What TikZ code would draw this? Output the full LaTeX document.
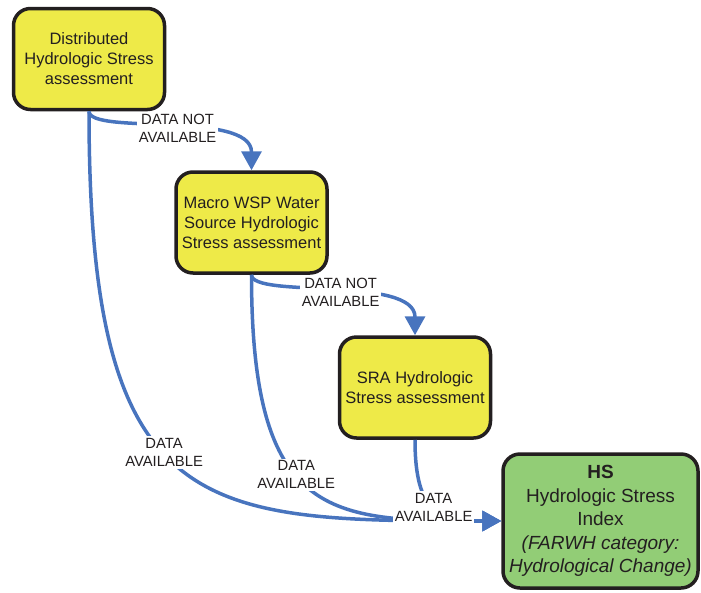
\documentclass[tikz,border=0pt]{standalone}
\usepackage{fontspec}
\setmainfont{Liberation Sans}
\usetikzlibrary{arrows.meta}
\definecolor{boxyellow}{RGB}{238,234,72}
\definecolor{boxgreen}{RGB}{146,205,118}
\definecolor{flowblue}{RGB}{72,116,190}
\definecolor{inkdark}{RGB}{35,31,32}

\begin{document}
\begin{tikzpicture}[x=1pt,y=-1pt,
  stage/.style={draw=inkdark, line width=3.5pt, rounded corners=17pt, fill=boxyellow,
    minimum width=151pt, minimum height=101pt, align=center, text=inkdark,
    font=\fontsize{16.5}{20}\selectfont, inner sep=0pt},
  result/.style={stage, fill=boxgreen, minimum width=195pt, minimum height=134pt,
    font=\fontsize{19}{23.5}\selectfont},
  flow/.style={draw=flowblue, line width=3.5pt, -{Triangle[length=19pt,width=20pt]}},
  cond/.style={fill=white, text=inkdark, align=center,
    font=\fontsize{14.8}{18}\selectfont, inner sep=2pt},
]
\useasboundingbox (0,0) rectangle (701,592);

% assessment stages
\node[stage] (b1) at (89,59) {Distributed\\Hydrologic Stress\\assessment};
\node[stage] (b2) at (251.5,222.5) {Macro WSP Water\\Source Hydrologic\\Stress assessment};
\node[stage] (b3) at (415,387.5) {SRA Hydrologic\\Stress assessment};
\node[result] (hs) at (600.5,521) {\textbf{HS}\\Hydrologic Stress\\Index\\\textit{(FARWH category:}\\\textit{Hydrological Change)}};

% fall-back paths when data are missing
\draw[flow] (b1.south) .. controls +(0,24) and +(0,-60) ..
  node[cond, pos=0.53] {DATA NOT\\AVAILABLE} (b2.north);
\draw[flow] (b2.south) .. controls +(0,24) and +(0,-60) ..
  node[cond, pos=0.53] {DATA NOT\\AVAILABLE} (b3.north);

% paths to the index when data are available
\draw[flow] (b1.south) .. controls +(0,409) and +(-300,0) ..
  node[cond, pos=0.45] {DATA\\AVAILABLE} (hs.west);
\draw[flow] (b2.south) .. controls +(0,245) and +(-171,0) ..
  node[cond, pos=0.43] {DATA\\AVAILABLE} (hs.west);
\draw[flow] (b3.south) .. controls +(0,75) and +(-61,0) ..
  node[cond, pos=0.48] {DATA\\AVAILABLE} (hs.west);
\end{tikzpicture}
\end{document}
